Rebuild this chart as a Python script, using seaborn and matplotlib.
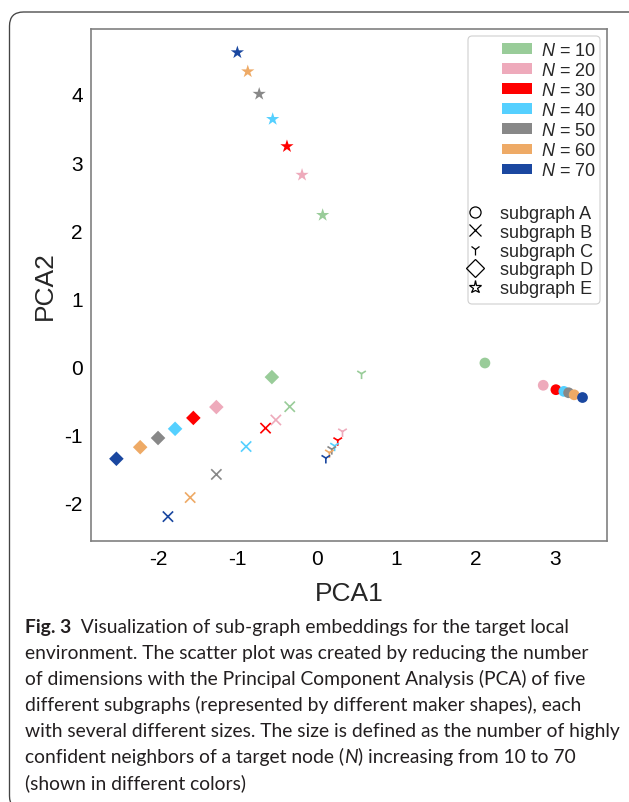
import numpy as np
import pandas as pd
import matplotlib
matplotlib.use("Agg")
import matplotlib.pyplot as plt
import seaborn as sns
from matplotlib.patches import Patch, FancyBboxPatch
from matplotlib.lines import Line2D
from matplotlib.transforms import IdentityTransform

# ---------------- data ----------------
sizes_N = [10, 20, 30, 40, 50, 60, 70]
colors = ['#99CC99', '#EEAABB', '#FF0000', '#55D0FF', '#888888', '#EEAA66', '#1A47A0']
subgraph_names = ['subgraph A', 'subgraph B', 'subgraph C', 'subgraph D', 'subgraph E']
subgraph_markers = ['o', 'x', '1', 'D', '*']

A_x = [2.115, 2.85, 3.01, 3.11, 3.17, 3.24, 3.345]
A_y = [0.047, -0.28, -0.345, -0.37, -0.39, -0.42, -0.46]
B_x = [-0.345, -0.52, -0.65, -0.895, -1.27, -1.60, -1.88]
B_y = [-0.595, -0.79, -0.91, -1.18, -1.59, -1.93, -2.21]
C_x = [0.56, 0.32, 0.26, 0.22, 0.185, 0.155, 0.11]
C_y = [-0.11, -0.96, -1.09, -1.17, -1.22, -1.27, -1.35]
D_x = [-0.57, -1.27, -1.56, -1.79, -2.005, -2.23, -2.53]
D_y = [-0.16, -0.60, -0.76, -0.92, -1.055, -1.19, -1.36]
E_x = [0.07, -0.19, -0.38, -0.56, -0.73, -0.874, -1.005]
E_y = [2.22, 2.81, 3.23, 3.63, 4.00, 4.33, 4.61]

x_ticks = [-2, -1, 0, 1, 2, 3]
y_ticks = [-2, -1, 0, 1, 2, 3, 4]

caption_lines = [
    [("Fig. 3", "bold"), ("  Visualization of sub-graph embeddings for the target local", "normal")],
    [("environment. The scatter plot was created by reducing the number", "normal")],
    [("of dimensions with the Principal Component Analysis (PCA) of five", "normal")],
    [("different subgraphs (represented by different maker shapes), each", "normal")],
    [("with several different sizes. The size is defined as the number of highly", "normal")],
    [("confident neighbors of a target node (", "normal"), ("N", "italic"),
     (") increasing from 10 to 70", "normal")],
    [("(shown in different colors)", "normal")],
]
caption_ref_widths = [554, 572, 568, 558, 579, 528]

# ---------------- style ----------------
sns.set_style("white")
plt.rcParams['font.family'] = ['Liberation Sans', 'DejaVu Sans']
plt.rcParams['mathtext.fontset'] = 'custom'
plt.rcParams['mathtext.it'] = 'Liberation Sans:italic'
plt.rcParams['mathtext.rm'] = 'Liberation Sans'
plt.rcParams['axes.unicode_minus'] = False

W, H = 629, 803
fig = plt.figure(figsize=(W / 100, H / 100), dpi=100)
fig.patch.set_facecolor('white')

# outer rounded frame (pixel coordinates)
frame = FancyBboxPatch((9.5, -8), 650, 790 + 8, boxstyle="round,pad=0,rounding_size=14",
                       transform=IdentityTransform(), facecolor='none',
                       edgecolor='#444444', linewidth=0.95)
fig.patches.append(frame)

ax_l, ax_t, ax_r, ax_b = 91, 30, 606.7, 541.7
ax = fig.add_axes([ax_l / W, 1 - ax_b / H, (ax_r - ax_l) / W, (ax_b - ax_t) / H])

palette = dict(zip(sizes_N, colors))
series = [(A_x, A_y), (B_x, B_y), (C_x, C_y), (D_x, D_y), (E_x, E_y)]
msizes = [60, 55, 60, 55, 100]
for (xs, ys), m, s in zip(series, subgraph_markers, msizes):
    df = pd.DataFrame({'x': xs, 'y': ys, 'N': sizes_N})
    filled = m in ('o', 'D', '*')
    kw = dict(linewidth=0) if filled else dict(linewidth=1.2)
    sns.scatterplot(data=df, x='x', y='y', hue='N', palette=palette, marker=m,
                    s=s, legend=False, ax=ax, zorder=3, **kw)

ax.set_xlim(-2.85, 3.65)
ax.set_ylim(-2.564, 4.955)
ax.set_xticks(x_ticks)
ax.set_yticks(y_ticks)
ax.set_xticklabels([str(v) for v in x_ticks])
ax.set_yticklabels([str(v) for v in y_ticks])
for sp in ax.spines.values():
    sp.set_color('#808080')
    sp.set_linewidth(1.2)
ax.tick_params(axis='both', direction='out', length=3, width=1, color='#808080',
               labelsize=15, pad=3, labelcolor='black')
ax.set_xlabel('PCA1', fontsize=19, labelpad=9)
ax.set_ylabel('PCA2', fontsize=19, labelpad=5)

# legend frame
axw, axh = ax_r - ax_l, ax_b - ax_t
def fx(px):
    return (px - ax_l) / axw
def fy(py):
    return 1 - (py - ax_t) / axh
lf = FancyBboxPatch((fx(468), fy(305)), fx(600) - fx(468), fy(37) - fy(305),
                    boxstyle="round,pad=0,rounding_size=0.008", transform=ax.transAxes,
                    facecolor='white', edgecolor='#d0d0d0', linewidth=0.8, zorder=4)
ax.add_patch(lf)

h1 = [Patch(facecolor=c, edgecolor=c, linewidth=0) for c in colors]
l1 = [rf'$N$ = {n}' for n in sizes_N]
leg1 = ax.legend(h1, l1, loc='upper right', bbox_to_anchor=(fx(596), fy(43)),
                 frameon=False, fontsize=13, borderpad=0, borderaxespad=0,
                 handlelength=1.65, handleheight=0.55, handletextpad=0.5,
                 labelspacing=0.17)
leg1.set_zorder(5)
ax.add_artist(leg1)

h2 = [Line2D([], [], ls='none', marker=m, color='black', markerfacecolor='none',
             markersize=ms, markeredgewidth=0.9)
      for m, ms in zip(subgraph_markers, [8, 9, 8, 9, 9.5])]
leg2 = ax.legend(h2, subgraph_names, loc='upper left', bbox_to_anchor=(fx(467), fy(206)),
                 frameon=False, fontsize=13, borderpad=0, borderaxespad=0,
                 handlelength=0.85, handletextpad=1.0, labelspacing=0.1)
leg2.set_zorder(5)

# caption
renderer = fig.canvas.get_renderer()
cap_font = ['Lato', 'DejaVu Sans']

def style_kw(st):
    return dict(fontweight='bold' if st == 'bold' else 'normal',
                fontstyle='italic' if st == 'italic' else 'normal')

def line_width(runs, size):
    x = 0
    tmp = []
    for s, st in runs:
        t = fig.text(0, 0, s, fontsize=size, family=cap_font, **style_kw(st))
        x += t.get_window_extent(renderer).width
        tmp.append(t)
    for t in tmp:
        t.remove()
    return x

base = 12.0
tot = sum(line_width(r, base) for r in caption_lines[:6])
cap_size = base * sum(caption_ref_widths) / tot

def draw_line(x_px, y_px, runs, size):
    x = x_px
    for s, st in runs:
        t = fig.text(x / W, 1 - y_px / H, s, fontsize=size, family=cap_font, va='baseline',
                     ha='left', color='#231f20', **style_kw(st))
        bb = t.get_window_extent(renderer)
        x = bb.x1

for i, runs in enumerate(caption_lines):
    draw_line(25, 633 + 26.1 * i, runs, cap_size)

fig.savefig('out.png', dpi=100, facecolor='white')
